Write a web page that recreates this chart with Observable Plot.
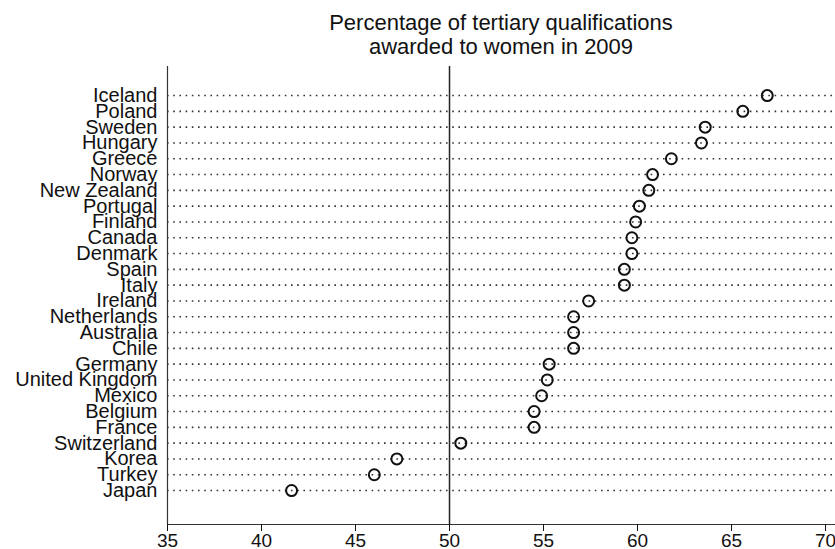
<!DOCTYPE html>
<html><head><meta charset="utf-8">
<script src="https://cdn.jsdelivr.net/npm/d3@7"></script>
<script src="https://cdn.jsdelivr.net/npm/@observablehq/plot@0.6"></script>
<style>
body{margin:0;background:#fff;font-family:"Liberation Sans",Arial,sans-serif;}
#title{width:835px;box-sizing:border-box;padding-left:167px;padding-top:11px;height:59px;text-align:center;font-size:22px;line-height:24px;color:#111;}
</style></head><body>
<div id="title">Percentage of tertiary qualifications<br>awarded to women in 2009</div>
<div id="chart"></div>
<script>
const countries = ["Iceland","Poland","Sweden","Hungary","Greece","Norway","New Zealand","Portugal","Finland","Canada","Denmark","Spain","Italy","Ireland","Netherlands","Australia","Chile","Germany","United Kingdom","Mexico","Belgium","France","Switzerland","Korea","Turkey","Japan"];
const values = [66.9,65.6,63.6,63.4,61.8,60.8,60.6,60.1,59.9,59.7,59.7,59.3,59.3,57.4,56.6,56.6,56.6,55.3,55.2,54.9,54.5,54.5,50.6,47.2,46.0,41.6];
const xTicks = [35,40,45,50,55,60,65,70];
const referenceValue = 50;

const data = countries.map((c, i) => ({country: c, i, value: values[i]}));
const yTop = -1.84, yBottom = 27.15;

const chart = Plot.plot({
  width: 835, height: 490,
  marginLeft: 167, marginRight: 0, marginTop: 7, marginBottom: 25,
  style: {fontFamily: "Liberation Sans, Arial, sans-serif", background: "#fff", color: "#111"},
  x: {domain: [35, 70.53]},
  y: {domain: [yTop, yBottom], reverse: true},
  marks: [
    Plot.ruleY(data, {y: "i", stroke: "#333", strokeWidth: 1.6, strokeDasharray: "1.6 4.6"}),
    Plot.ruleX([referenceValue], {stroke: "#222", strokeWidth: 1.5}),
    Plot.ruleX([35], {stroke: "#333", strokeWidth: 1.2}),
    Plot.ruleY([yBottom], {stroke: "#333", strokeWidth: 1.2}),
    Plot.dot(data, {x: "value", y: "i", r: 5.5, stroke: "#111", strokeWidth: 2, fill: "none"}),
    Plot.axisX({ticks: xTicks, tickSize: 7, tickPadding: 2, fontSize: 19, label: null}),
    Plot.axisY({ticks: d3.range(countries.length), tickFormat: i => countries[i], tickSize: 0, tickPadding: 10, fontSize: 20, label: null})
  ]
});
document.getElementById("chart").appendChild(chart);
</script>
</body></html>
